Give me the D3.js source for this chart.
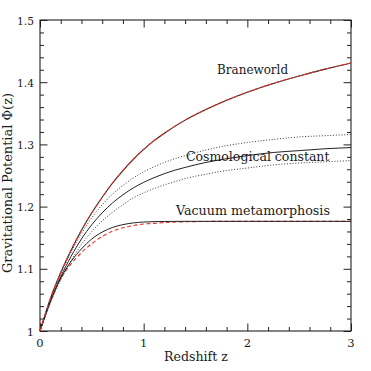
<!DOCTYPE html>
<html>
<head>
<meta charset="utf-8">
<script src="https://cdn.jsdelivr.net/npm/d3@7"></script>
<style>
  html, body { margin: 0; padding: 0; background: #fff; }
  svg { display: block; }
  text { font-family: "DejaVu Serif", "Liberation Serif", serif; fill: #1a1a1a; }
</style>
</head>
<body>
<svg id="chart" width="371" height="371"></svg>
<script>
// ---- data ----
const redshift    = [0, 0.1, 0.2, 0.3, 0.4, 0.5, 0.6, 0.7, 0.8, 0.9, 1.0, 1.1, 1.2, 1.3, 1.4, 1.6, 1.8, 2.0, 2.25, 2.5, 2.75, 3.0];
const braneworld  = [1.000, 1.052, 1.094, 1.130, 1.162, 1.190, 1.215, 1.238, 1.258, 1.276, 1.292, 1.306, 1.318, 1.329, 1.339, 1.356, 1.371, 1.384, 1.398, 1.410, 1.421, 1.431];
const lambdaMid   = [1.000, 1.047, 1.087, 1.120, 1.148, 1.171, 1.190, 1.206, 1.219, 1.230, 1.239, 1.2465, 1.253, 1.2585, 1.263, 1.271, 1.277, 1.282, 1.287, 1.290, 1.293, 1.295];
const lambdaUpper = [1.000, 1.049, 1.091, 1.127, 1.157, 1.182, 1.203, 1.220, 1.234, 1.246, 1.256, 1.264, 1.271, 1.277, 1.282, 1.291, 1.298, 1.303, 1.308, 1.312, 1.314, 1.316];
const lambdaLower = [1.000, 1.045, 1.082, 1.113, 1.139, 1.160, 1.177, 1.191, 1.203, 1.214, 1.222, 1.229, 1.235, 1.240, 1.245, 1.252, 1.258, 1.262, 1.267, 1.270, 1.272, 1.274];
const vacuum      = [1.000, 1.048, 1.085, 1.112, 1.132, 1.148, 1.159, 1.1665, 1.171, 1.1738, 1.1752, 1.1758, 1.1761, 1.1762, 1.1763, 1.1763, 1.1763, 1.1763, 1.1763, 1.1763, 1.1763, 1.1763];
const vacuumRed   = [1.000, 1.048, 1.084, 1.108, 1.126, 1.1405, 1.152, 1.1605, 1.166, 1.1695, 1.172, 1.173, 1.1743, 1.1751, 1.1756, 1.1761, 1.1763, 1.1763, 1.1763, 1.1763, 1.1763, 1.1763];

const xMajorTicks = [0, 1, 2, 3];
const xTickLabels = ["0", "1", "2", "3"];
const yMajorTicks = [1.0, 1.1, 1.2, 1.3, 1.4, 1.5];
const yTickLabels = ["1", "1.1", "1.2", "1.3", "1.4", "1.5"];

const curveLabels = [
  { text: "Braneworld", z: 1.708, phi: 1.413, len: 71 },
  { text: "Cosmological constant", z: 1.408, phi: 1.2735, len: 143.5 },
  { text: "Vacuum metamorphosis", z: 1.311, phi: 1.1865, len: 154 }
];

// ---- layout ----
const mLeft = 40, mRight = 351, mTop = 20, mBottom = 331;
const svg = d3.select("#chart");

const x = d3.scaleLinear().domain([0, 3]).range([mLeft, mRight]);
const y = d3.scaleLinear().domain([1.0, 1.5]).range([mBottom, mTop]);

const axisColor = "#222";
const majorLen = 7.5, minorLen = 4;

const xMinor = d3.range(0, 3.0001, 0.2).map(v => +v.toFixed(2)).filter(v => !xMajorTicks.some(m => Math.abs(m - v) < 1e-6));
const yMinor = d3.range(1.0, 1.5001, 0.02).map(v => +v.toFixed(3)).filter(v => !yMajorTicks.some(m => Math.abs(m - v) < 1e-6));

function addAxis(gen, transform) {
  const g = svg.append("g").attr("transform", transform).call(gen);
  g.select(".domain").remove();
  g.selectAll("line").attr("stroke", axisColor).attr("stroke-width", 1);
  g.selectAll("text").remove();
  return g;
}
addAxis(d3.axisBottom(x).tickValues(xMajorTicks).tickSize(-majorLen), `translate(0,${mBottom})`);
addAxis(d3.axisBottom(x).tickValues(xMinor).tickSize(-minorLen), `translate(0,${mBottom})`);
addAxis(d3.axisTop(x).tickValues(xMajorTicks).tickSize(-majorLen), `translate(0,${mTop})`);
addAxis(d3.axisTop(x).tickValues(xMinor).tickSize(-minorLen), `translate(0,${mTop})`);
addAxis(d3.axisLeft(y).tickValues(yMajorTicks).tickSize(-majorLen), `translate(${mLeft},0)`);
addAxis(d3.axisLeft(y).tickValues(yMinor).tickSize(-minorLen), `translate(${mLeft},0)`);
addAxis(d3.axisRight(y).tickValues(yMajorTicks).tickSize(-majorLen), `translate(${mRight},0)`);
addAxis(d3.axisRight(y).tickValues(yMinor).tickSize(-minorLen), `translate(${mRight},0)`);

svg.append("rect")
  .attr("x", mLeft).attr("y", mTop)
  .attr("width", mRight - mLeft).attr("height", mBottom - mTop)
  .attr("fill", "none").attr("stroke", axisColor).attr("stroke-width", 1.1);

svg.append("g").selectAll("text").data(xMajorTicks).join("text")
  .attr("x", d => x(d)).attr("y", mBottom + 16)
  .attr("text-anchor", "middle").attr("font-size", 11.5)
  .text((d, i) => xTickLabels[i]);
svg.append("g").selectAll("text").data(yMajorTicks).join("text")
  .attr("x", mLeft - 6).attr("y", d => y(d) + 4.5)
  .attr("text-anchor", "end").attr("font-size", 11.5)
  .attr("textLength", d => d === 1 ? null : 17).attr("lengthAdjust", "spacingAndGlyphs")
  .text((d, i) => yTickLabels[i]);

svg.append("text")
  .attr("x", 196).attr("y", 360.5)
  .attr("text-anchor", "middle").attr("font-size", 12)
  .attr("textLength", 64).attr("lengthAdjust", "spacingAndGlyphs")
  .text("Redshift z");
svg.append("text")
  .attr("transform", "translate(12,183) rotate(-90)")
  .attr("text-anchor", "middle").attr("font-size", 12)
  .attr("textLength", 180).attr("lengthAdjust", "spacingAndGlyphs")
  .text("Gravitational Potential \u03A6(z)");

const line = d3.line().x(d => x(d[0])).y(d => y(d[1])).curve(d3.curveMonotoneX);
const pts = arr => redshift.map((z, i) => [z, arr[i]]);

const plot = svg.append("g");
plot.append("path").attr("d", line(pts(lambdaUpper)))
  .attr("fill", "none").attr("stroke", "#222").attr("stroke-width", 0.9).attr("stroke-dasharray", "1,1.8");
plot.append("path").attr("d", line(pts(lambdaLower)))
  .attr("fill", "none").attr("stroke", "#222").attr("stroke-width", 0.9).attr("stroke-dasharray", "1,1.8");
plot.append("path").attr("d", line(pts(lambdaMid)))
  .attr("fill", "none").attr("stroke", "#222").attr("stroke-width", 1);

plot.append("path").attr("d", line(pts(vacuumRed)))
  .attr("fill", "none").attr("stroke", "#e8322a").attr("stroke-width", 1.1).attr("stroke-dasharray", "4,2.5");
plot.append("path").attr("d", line(pts(vacuum)))
  .attr("fill", "none").attr("stroke", "#222").attr("stroke-width", 1);

plot.append("path").attr("d", line(pts(braneworld)))
  .attr("fill", "none").attr("stroke", "#222").attr("stroke-width", 1.1);
plot.append("path").attr("d", line(pts(braneworld)))
  .attr("fill", "none").attr("stroke", "#e8322a").attr("stroke-width", 1.1).attr("stroke-dasharray", "5,2.5");

svg.append("g").selectAll("text").data(curveLabels).join("text")
  .attr("x", d => x(d.z)).attr("y", d => y(d.phi))
  .attr("font-size", 12)
  .attr("textLength", d => d.len).attr("lengthAdjust", "spacingAndGlyphs")
  .text(d => d.text);
</script>
</body>
</html>
